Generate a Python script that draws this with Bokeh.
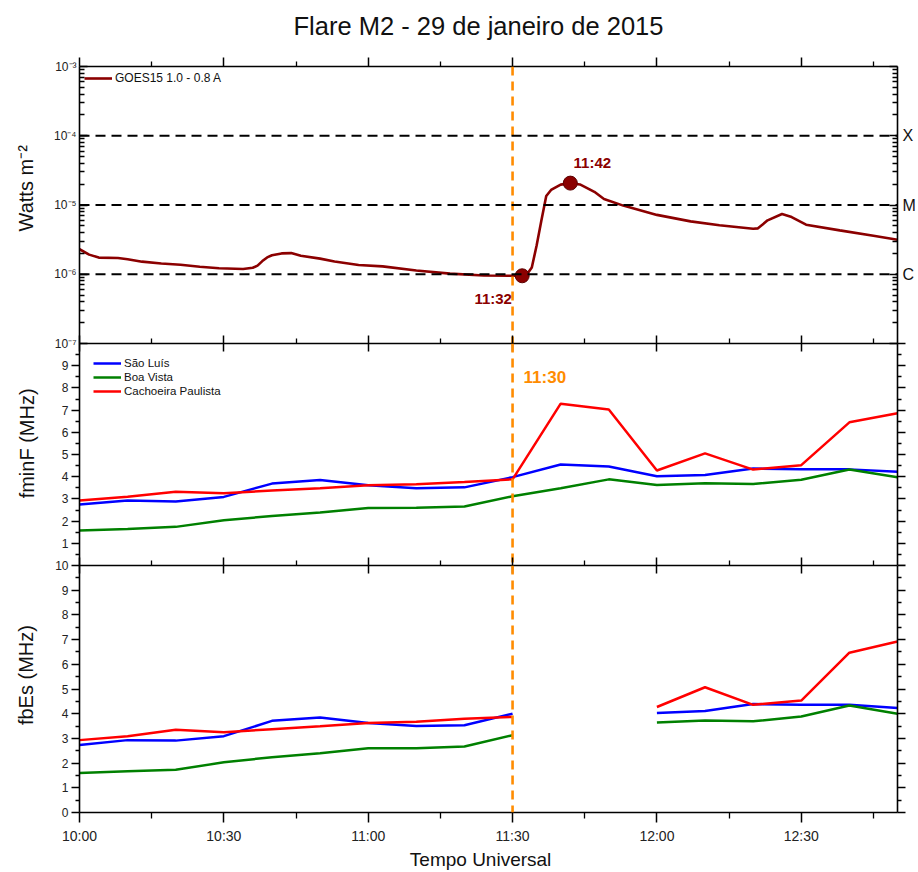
import numpy as np
import pandas as pd
from bokeh.plotting import figure
from bokeh.layouts import column
from bokeh.models import (Range1d, FixedTicker, DatetimeAxis, LinearAxis, LogAxis,
                          DatetimeTickFormatter, CustomJSTickFormatter, Span, Label)
from bokeh.embed import file_html
from bokeh.resources import INLINE

DAY = "2015-01-29"
TITLE = "Flare M2 - 29 de janeiro de 2015"

# GOES-15 long channel X-ray flux (W m^-2)
goes_time = ["10:00", "10:02", "10:04", "10:08", "10:10", "10:13", "10:17", "10:21", "10:25",
             "10:29", "10:34", "10:36", "10:37", "10:38", "10:39", "10:40", "10:42", "10:44",
             "10:46", "10:50", "10:53", "10:58", "11:03", "11:10", "11:17", "11:24", "11:30",
             "11:32", "11:33", "11:34", "11:35", "11:36", "11:37", "11:38", "11:40", "11:42",
             "11:44", "11:47", "11:49", "11:53", "12:00", "12:07", "12:13", "12:20", "12:21",
             "12:23", "12:26", "12:28", "12:31", "12:38", "12:45", "12:50"]
goes_flux = [2.3e-6, 1.92e-6, 1.74e-6, 1.72e-6, 1.65e-6, 1.52e-6, 1.43e-6, 1.37e-6, 1.28e-6,
             1.22e-6, 1.19e-6, 1.24e-6, 1.33e-6, 1.55e-6, 1.75e-6, 1.88e-6, 2.0e-6, 2.02e-6,
             1.85e-6, 1.68e-6, 1.53e-6, 1.36e-6, 1.3e-6, 1.13e-6, 1.02e-6, 0.96e-6, 0.95e-6,
             0.95e-6, 1.0e-6, 1.25e-6, 2.6e-6, 6.0e-6, 1.35e-5, 1.65e-5, 1.97e-5, 2.07e-5,
             1.98e-5, 1.55e-5, 1.22e-5, 9.8e-6, 7.2e-6, 5.8e-6, 5.1e-6, 4.55e-6, 4.6e-6,
             6.0e-6, 7.4e-6, 6.7e-6, 5.2e-6, 4.3e-6, 3.6e-6, 3.15e-6]
goes_name = "GOES15 1.0 - 0.8 A"

# flare start / maximum
peak_time = ["11:32", "11:42"]
peak_flux = [0.95e-6, 2.07e-5]

# flare class thresholds
flare_classes = ["X", "M", "C"]
class_levels = [1e-4, 1e-5, 1e-6]

# ionosonde soundings every 10 minutes
iono_time = ["10:00", "10:10", "10:20", "10:30", "10:40", "10:50", "11:00", "11:10", "11:20",
             "11:30", "11:40", "11:50", "12:00", "12:10", "12:20", "12:30", "12:40", "12:50"]
stations = ["São Luís", "Boa Vista", "Cachoeira Paulista"]
station_colors = ["#0000FF", "#008000", "#FF0000"]

fminf_sl = [2.75, 2.93, 2.88, 3.09, 3.69, 3.85, 3.62, 3.48, 3.52, 3.98, 4.55, 4.46,
            4.02, 4.08, 4.37, 4.33, 4.33, 4.22]
fminf_bv = [1.58, 1.64, 1.74, 2.04, 2.23, 2.39, 2.59, 2.60, 2.66, 3.12, 3.48, 3.88,
            3.63, 3.71, 3.67, 3.86, 4.32, 3.98]
fminf_cp = [2.93, 3.10, 3.32, 3.25, 3.38, 3.48, 3.62, 3.66, 3.76, 3.88, 7.29, 7.03,
            4.28, 5.05, 4.32, 4.52, 6.45, 6.86]

nan = float("nan")
fbes_sl = [2.73, 2.93, 2.91, 3.09, 3.71, 3.85, 3.62, 3.50, 3.53, 4.00, nan, nan,
           4.03, 4.11, 4.39, 4.36, 4.36, 4.23]
fbes_bv = [1.60, 1.67, 1.73, 2.03, 2.24, 2.40, 2.60, 2.60, 2.67, 3.13, nan, nan,
           3.64, 3.72, 3.69, 3.89, 4.33, 4.00]
fbes_cp = [2.93, 3.09, 3.35, 3.25, 3.37, 3.49, 3.62, 3.67, 3.80, 3.87, nan, nan,
           4.27, 5.07, 4.36, 4.53, 6.47, 6.92]

event_time = "11:30"
time_start, time_end = "10:00", "12:50"
time_major = ["10:00", "10:30", "11:00", "11:30", "12:00", "12:30"]
time_minor = ["10:15", "10:45", "11:15", "11:45", "12:15", "12:45"]
flux_decades = [1e-7, 1e-6, 1e-5, 1e-4, 1e-3]
freq_ticks = [0, 1, 2, 3, 4, 5, 6, 7, 8, 9, 10]

FONT = "Liberation Sans"
DARKRED = "#8B0000"
ORANGE = "#FF8C00"
W = 918
NB = "\u00a0"  # non-breaking space used to nudge rotated axis titles

# formatter for tick-only frame axes: no label text at all
blank_fmt = CustomJSTickFormatter(code="return '';")


def ts(hhmm):
    return pd.Timestamp(f"{DAY} {hhmm}")


def ms(hhmm):
    return ts(hhmm).value // 10**6


def times(lst):
    return pd.to_datetime([f"{DAY} {t}" for t in lst])


time_ticker = FixedTicker(ticks=[ms(t) for t in time_major],
                          minor_ticks=[ms(t) for t in time_minor])
hhmm = "%H:%M"
time_fmt = DatetimeTickFormatter(seconds=hhmm, minsec=hhmm, minutes=hhmm, hourmin=hhmm,
                                 hours=hhmm, days=hhmm, months=hhmm, years=hhmm)


def style_axis(ax, t_in=0, t_out=0, m_in=0, m_out=0, size=None, standoff=0):
    ax.axis_line_width = 1.6
    ax.axis_line_color = "black"
    ax.major_tick_in = t_in
    ax.major_tick_out = t_out
    ax.minor_tick_in = m_in
    ax.minor_tick_out = m_out
    ax.major_tick_line_width = 1.5
    ax.minor_tick_line_width = 1.3
    ax.major_tick_line_color = "black"
    ax.minor_tick_line_color = "black"
    ax.major_label_text_font = FONT
    ax.major_label_text_color = "#222222"
    ax.major_label_standoff = standoff
    if size is None:
        ax.formatter = blank_fmt
        ax.major_label_text_font_size = "1px"
    else:
        ax.major_label_text_font_size = size
    ax.axis_label_text_font = FONT
    ax.axis_label_text_font_style = "normal"
    ax.axis_label_text_color = "#111111"


def add_time_axis(p, place, t_in, t_out, m_in, m_out, labels=False):
    ax = DatetimeAxis(ticker=time_ticker, formatter=time_fmt)
    style_axis(ax, t_in, t_out, m_in, m_out, "14px" if labels else None, 5 if labels else 0)
    p.add_layout(ax, place)
    return ax


def make_fig(height, y_range, y_type, top, bottom):
    p = figure(width=W, height=height, x_axis_type="datetime", y_axis_type=y_type,
               x_range=Range1d(ts(time_start), ts(time_end)), y_range=y_range,
               x_axis_location=None, output_backend="svg", toolbar_location=None,
               min_border_left=79, min_border_right=19,
               min_border_top=top, min_border_bottom=bottom)
    p.grid.visible = False
    p.outline_line_color = None
    p.add_layout(Span(location=ms(event_time), dimension="height", line_color=ORANGE,
                      line_dash="9 6", line_width=2.6))
    return p


def style_legend(lg, size, margin, padding):
    lg.location = "top_left"
    lg.border_line_color = None
    lg.background_fill_alpha = 0
    lg.label_text_font = FONT
    lg.label_text_font_size = size
    lg.label_text_color = "#111111"
    lg.glyph_width = 28
    lg.glyph_height = 12
    lg.label_height = 12
    lg.label_standoff = 3
    lg.spacing = 2
    lg.margin = margin
    lg.padding = padding


# ---------- X-ray flux panel ----------
# the canvas starts above the page so the frame top sits at 66 px
p1 = make_fig(373, Range1d(1e-7, 1e-3), "log", 86, 10)
p1.margin = (-20, 0, 0, 0)
p1.title.text = TITLE
p1.title.text_font = FONT
p1.title.text_font_size = "25.5px"
p1.title.text_font_style = "normal"
p1.title.text_color = "#111111"
p1.title.align = "left"
p1.title.offset = 214
p1.title.standoff = 35

for lvl in class_levels:
    p1.add_layout(Span(location=lvl, dimension="width", line_color="black",
                       line_dash="10 6", line_width=1.8))

p1.line(times(goes_time), goes_flux, line_color=DARKRED, line_width=2.6,
        legend_label=goes_name)
p1.scatter(times(peak_time), peak_flux, size=14, fill_color=DARKRED, line_color="#5c0000")

label_offsets = [(-29, -23), (22, 21)]
for t, f, (dx, dy) in zip(peak_time, peak_flux, label_offsets):
    p1.add_layout(Label(x=ms(t), y=f, x_offset=dx, y_offset=dy, text=t,
                        text_font=FONT, text_font_size="15px", text_font_style="bold",
                        text_color=DARKRED, text_align="center", text_baseline="middle"))

log_minor = [m * d for d in flux_decades[:-1] for m in range(2, 10)]
flux_ticker = FixedTicker(ticks=flux_decades, minor_ticks=log_minor)
sup_fmt = CustomJSTickFormatter(code="""
const sup = {"-": "\u207b", "0": "\u2070", "1": "\u00b9", "2": "\u00b2", "3": "\u00b3",
             "4": "\u2074", "5": "\u2075", "6": "\u2076", "7": "\u2077", "8": "\u2078", "9": "\u2079"};
const e = String(Math.round(Math.log10(tick)));
return "10" + e.split("").map(c => sup[c]).join("");
""")
ly = p1.left[0]
ly.ticker = flux_ticker
style_axis(ly, 8, 0, 5, 0, "12px", 3)
ly.formatter = sup_fmt
ly.axis_label = NB * 6 + "Watts m\u207b\u00b2"
ly.axis_label_text_font_size = "20px"
ly.axis_label_standoff = 14

class_fmt = CustomJSTickFormatter(args=dict(levels=class_levels, names=flare_classes), code="""
const i = levels.findIndex(v => Math.abs(Math.log10(v) - Math.log10(tick)) < 1e-6);
return i >= 0 ? names[i] : "";
""")
ry = LogAxis(ticker=flux_ticker)
style_axis(ry, 8, 0, 5, 0, "16px", 5)
ry.formatter = class_fmt
ry.major_label_text_color = "#111111"
p1.add_layout(ry, "right")
add_time_axis(p1, "above", 0, 9, 0, 5)
style_legend(p1.legend[0], "12px", 5, 5)

# ---------- fminF panel ----------
p2 = make_fig(234, Range1d(0, 10), "linear", 12, 0)
p2.margin = (-22, 0, 0, 0)
p2.border_fill_color = None
p2.background_fill_color = None
for name, color, vals in zip(stations, station_colors, [fminf_sl, fminf_bv, fminf_cp]):
    p2.line(times(iono_time), vals, line_color=color, line_width=2.5, legend_label=name)

p2.add_layout(Label(x=ms(event_time), y=8.45, x_offset=11, text=event_time, text_font=FONT,
                    text_font_size="17px", text_font_style="bold", text_color=ORANGE,
                    text_align="left", text_baseline="middle"))

half_ticks = [v + 0.5 for v in freq_ticks[:-1]]
ly2 = p2.left[0]
ly2.ticker = FixedTicker(ticks=freq_ticks[1:-1], minor_ticks=half_ticks)
style_axis(ly2, 0, 8, 0, 4, "12px", 3)
ly2.axis_label = NB * 4 + "fminF (MHz)"
ly2.axis_label_text_font_size = "20px"
ly2.axis_label_standoff = 21
ry2 = LinearAxis(ticker=FixedTicker(ticks=freq_ticks, minor_ticks=half_ticks))
style_axis(ry2, 0, 8, 0, 4)
p2.add_layout(ry2, "right")
add_time_axis(p2, "above", 8, 8, 0, 5)
style_legend(p2.legend[0], "11.5px", 14, 5)

# ---------- fbEs panel ----------
p3 = make_fig(319, Range1d(0, 10), "linear", 12, 57)
p3.margin = (-12, 0, 0, 0)
p3.border_fill_color = None
p3.background_fill_color = None
for color, vals in zip(station_colors, [fbes_sl, fbes_bv, fbes_cp]):
    p3.line(times(iono_time), vals, line_color=color, line_width=2.5)

ly3 = p3.left[0]
ly3.ticker = FixedTicker(ticks=freq_ticks, minor_ticks=half_ticks)
style_axis(ly3, 0, 8, 0, 4, "12px", 3)
ly3.axis_label = NB * 5 + "fbEs (MHz)"
ly3.axis_label_text_font_size = "20px"
ly3.axis_label_standoff = 15
ry3 = LinearAxis(ticker=FixedTicker(ticks=freq_ticks, minor_ticks=half_ticks))
style_axis(ry3, 0, 8, 0, 4)
p3.add_layout(ry3, "right")
add_time_axis(p3, "above", 8, 8, 0, 5)
bx = add_time_axis(p3, "below", 0, 10, 0, 6, labels=True)
bx.axis_label = "Tempo Universal" + NB * 3
bx.axis_label_text_font_size = "19px"
bx.axis_label_standoff = 2

layout = column(p1, p2, p3)
open("out.html", "w").write(file_html(layout, INLINE, TITLE))
